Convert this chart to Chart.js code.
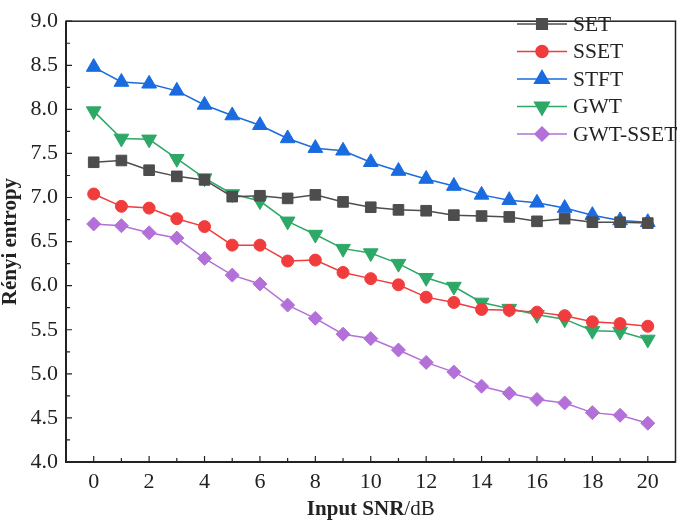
<!DOCTYPE html>
<html>
<head>
<meta charset="utf-8">
<script src="https://cdn.jsdelivr.net/npm/chart.js@4.4.0/dist/chart.umd.min.js"></script>
<style>
  html, body { margin: 0; padding: 0; background: #fff; }
  #wrap { width: 685px; height: 521px; }
</style>
</head>
<body>
<div id="wrap"><canvas id="entropyChart" width="685" height="521"></canvas></div>
<script>
// input SNR in dB
const snr = [0, 1, 2, 3, 4, 5, 6, 7, 8, 9, 10, 11, 12, 13, 14, 15, 16, 17, 18, 19, 20]

const setVals = [7.40, 7.42, 7.31, 7.24, 7.20, 7.01, 7.02, 6.99, 7.03, 6.95, 6.89, 6.86, 6.85, 6.80, 6.79, 6.78, 6.73, 6.76, 6.72, 6.72, 6.71]
const ssetVals = [7.04, 6.90, 6.88, 6.76, 6.67, 6.46, 6.46, 6.28, 6.29, 6.15, 6.08, 6.01, 5.87, 5.81, 5.73, 5.72, 5.70, 5.66, 5.59, 5.57, 5.54]
const stftVals = [8.48, 8.31, 8.29, 8.21, 8.05, 7.93, 7.82, 7.67, 7.56, 7.53, 7.40, 7.30, 7.21, 7.13, 7.03, 6.97, 6.94, 6.88, 6.80, 6.74, 6.72]
const gwtVals = [7.98, 7.67, 7.66, 7.44, 7.22, 7.04, 6.96, 6.73, 6.58, 6.42, 6.37, 6.25, 6.09, 5.99, 5.81, 5.74, 5.67, 5.62, 5.49, 5.48, 5.39]
const gwtSsetVals = [6.70, 6.68, 6.60, 6.54, 6.31, 6.12, 6.02, 5.78, 5.63, 5.45, 5.40, 5.27, 5.13, 5.02, 4.86, 4.78, 4.71, 4.67, 4.56, 4.53, 4.44]

const xTickLabels = [0, 2, 4, 6, 8, 10, 12, 14, 16, 18, 20]
const yTickLabels = [4.0, 4.5, 5.0, 5.5, 6.0, 6.5, 7.0, 7.5, 8.0, 8.5, 9.0]

const serif = '"Liberation Serif", "Times New Roman", serif'
const ink = '#222'

function series(label, vals, color, style, radius, rotation) {
  return {
    label: label,
    data: snr.map((x, i) => ({ x: x, y: vals[i] })),
    borderColor: color,
    backgroundColor: color,
    pointBackgroundColor: color,
    pointBorderColor: color,
    borderWidth: 1.5,
    pointStyle: style,
    pointRadius: radius,
    pointRotation: rotation || 0,
    pointBorderWidth: 1,
    tension: 0
  }
}

const datasets = [
  series('SET', setVals, '#4d4d4d', 'rect', 7.5),
  series('SSET', ssetVals, '#f03c3c', 'circle', 6),
  series('STFT', stftVals, '#1a6be0', 'triangle', 8.5),
  series('GWT', gwtVals, '#2ea866', 'triangle', 8.5, 180),
  series('GWT-SSET', gwtSsetVals, '#b370d8', 'rectRot', 7)
]

// frame, inward ticks, axis titles and legend
const decor = {
  id: 'decor',
  afterDraw(chart) {
    const ctx = chart.ctx
    const a = chart.chartArea
    const xs = chart.scales.x
    const ys = chart.scales.y
    ctx.save()
    ctx.strokeStyle = ink
    ctx.lineWidth = 1.5
    ctx.strokeRect(a.left, a.top, a.right - a.left, a.bottom - a.top)
    ctx.lineWidth = 2
    ctx.beginPath()
    ctx.moveTo(a.left, a.top); ctx.lineTo(a.left, a.bottom); ctx.lineTo(a.right, a.bottom)
    ctx.stroke()

    ctx.lineWidth = 1.2
    ctx.beginPath()
    for (let v = 0; v <= 20; v++) {
      const px = xs.getPixelForValue(v)
      const len = v % 2 === 0 ? 6 : 4
      ctx.moveTo(px, a.bottom); ctx.lineTo(px, a.bottom - len)
    }
    for (let v = 4; v <= 9.0001; v += 0.25) {
      const py = ys.getPixelForValue(v)
      const major = Math.abs(v * 2 - Math.round(v * 2)) < 1e-6
      const len = major ? 6 : 4
      ctx.moveTo(a.left, py); ctx.lineTo(a.left + len, py)
    }
    ctx.stroke()

    // x title: bold part + normal part
    ctx.fillStyle = ink
    ctx.textBaseline = 'alphabetic'
    const boldFont = 'bold 21px ' + serif
    const normFont = '21px ' + serif
    ctx.font = boldFont
    const w1 = ctx.measureText('Input SNR').width
    ctx.font = normFont
    const w2 = ctx.measureText('/dB').width
    const cx = (a.left + a.right) / 2
    let sx = cx - (w1 + w2) / 2
    ctx.font = boldFont
    ctx.textAlign = 'left'
    ctx.fillText('Input SNR', sx, 515)
    ctx.font = normFont
    ctx.fillText('/dB', sx + w1, 515)

    // y title
    ctx.save()
    ctx.translate(16, (a.top + a.bottom) / 2)
    ctx.rotate(-Math.PI / 2)
    ctx.font = boldFont
    ctx.textAlign = 'center'
    ctx.fillText('Rényi entropy', 0, 0)
    ctx.restore()

    // legend
    ctx.font = '21.5px ' + serif
    ctx.textAlign = 'left'
    ctx.textBaseline = 'middle'
    chart.data.datasets.forEach((ds, i) => {
      const y = 24 + i * 27.5
      ctx.strokeStyle = ds.borderColor
      ctx.lineWidth = 1.5
      ctx.beginPath()
      ctx.moveTo(517, y); ctx.lineTo(567, y)
      ctx.stroke()
      ctx.fillStyle = ds.backgroundColor
      Chart.helpers.drawPoint(ctx, {
        pointStyle: ds.pointStyle,
        rotation: ds.pointRotation,
        radius: ds.pointRadius,
        borderWidth: 1
      }, 542, y)
      ctx.fill()
      ctx.fillStyle = ink
      ctx.fillText(ds.label, 573, y + 1)
    })
    ctx.restore()
  }
}

const myEntropyChart = new Chart(document.getElementById('entropyChart').getContext('2d'), {
  type: 'line',
  data: { datasets: datasets },
  options: {
    responsive: false,
    animation: false,
    layout: { padding: { left: 0, right: 2, top: 9, bottom: 0 } },
    plugins: {
      legend: { display: false },
      tooltip: { enabled: false }
    },
    scales: {
      x: {
        type: 'linear',
        min: -1,
        max: 21,
        afterFit(s) { s.height = 59 },
        grid: { display: false, drawTicks: false },
        border: { display: false },
        ticks: {
          stepSize: 1,
          padding: 7,
          color: ink,
          font: { family: serif, size: 22 },
          maxRotation: 0,
          autoSkip: false,
          callback: v => xTickLabels.includes(v) ? String(v) : ''
        }
      },
      y: {
        min: 4,
        max: 9,
        afterFit(s) { s.width = 66 },
        grid: { display: false, drawTicks: false },
        border: { display: false },
        ticks: {
          stepSize: 0.5,
          padding: 8,
          color: ink,
          font: { family: serif, size: 22 },
          callback: v => yTickLabels.includes(v) ? v.toFixed(1) : ''
        }
      }
    }
  },
  plugins: [decor]
})
</script>
</body>
</html>
